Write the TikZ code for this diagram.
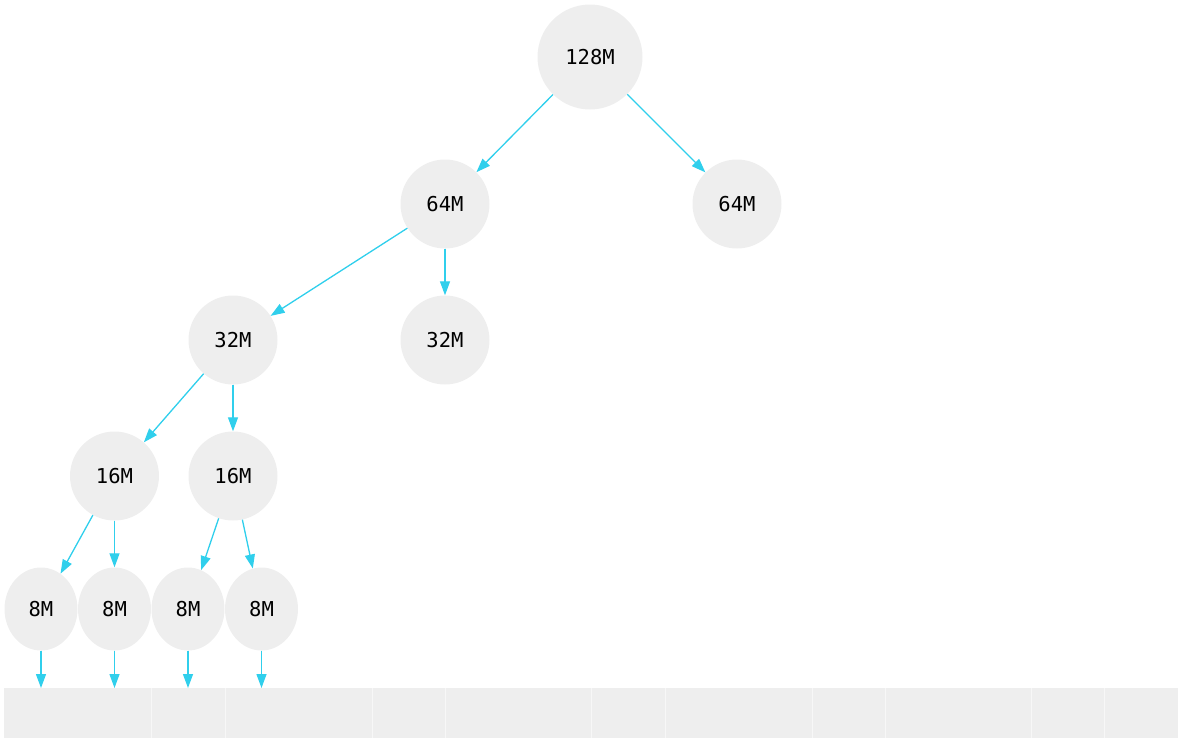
\documentclass[tikz,border=0pt]{standalone}
\usepackage{fontspec}
\setmonofont{DejaVu Sans Mono}
\usetikzlibrary{arrows.meta,shapes.geometric}
\definecolor{nodegray}{HTML}{EEEEEE}
\definecolor{edgecyan}{RGB}{48,207,236}
\definecolor{sepcol}{HTML}{F7F7F7}
\tikzset{
  blk/.style={circle,fill=nodegray,inner sep=0pt,minimum size=89pt,font=\ttfamily\fontsize{20.5}{24}\selectfont},
  bigblk/.style={blk,minimum size=105pt},
  smallblk/.style={ellipse,fill=nodegray,inner sep=0pt,minimum width=73pt,minimum height=83pt,font=\ttfamily\fontsize{20.5}{24}\selectfont},
  link/.style={draw=edgecyan,line width=1.3pt,-{Triangle[length=14pt,width=10pt]},fill=edgecyan}
}
\begin{document}
\begin{tikzpicture}[x=1pt,y=-1pt]
\useasboundingbox (0,0) rectangle (1183,744);
\node[bigblk] (r) at (590,57) {128M};
\node[blk] (a) at (445,204) {64M};
\node[blk] (b) at (737,204) {64M};
\node[blk] (c) at (233,340) {32M};
\node[blk] (d) at (445,340) {32M};
\node[blk] (e) at (114.5,476) {16M};
\node[blk] (f) at (233,476) {16M};
\node[smallblk] (g1) at (41,609) {8M};
\node[smallblk] (g2) at (114.5,609) {8M};
\node[smallblk] (g3) at (188,609) {8M};
\node[smallblk] (g4) at (261.5,609) {8M};
\node[rectangle,fill=nodegray,inner sep=0pt,minimum width=1174pt,minimum height=50pt,anchor=north west] (bar) at (4,688) {};
\foreach \sx in {151.5,225,372,445,591,665,812,885,1031,1104.5}
  \draw[sepcol,line width=0.8pt] (\sx,688) -- (\sx,738);
\draw[link] (r) -- (a);
\draw[link] (r) -- (b);
\draw[link] (a) -- (c);
\draw[link] (a) -- (d);
\draw[link] (c) -- (e);
\draw[link] (c) -- (f);
\draw[link] (e) -- (g1);
\draw[link] (e) -- (g2);
\draw[link] (f) -- (g3);
\draw[link] (f) -- (g4);
\foreach \g in {g1,g2,g3,g4}
  \draw[link] (\g) -- (\g |- bar.north);
\end{tikzpicture}
\end{document}
